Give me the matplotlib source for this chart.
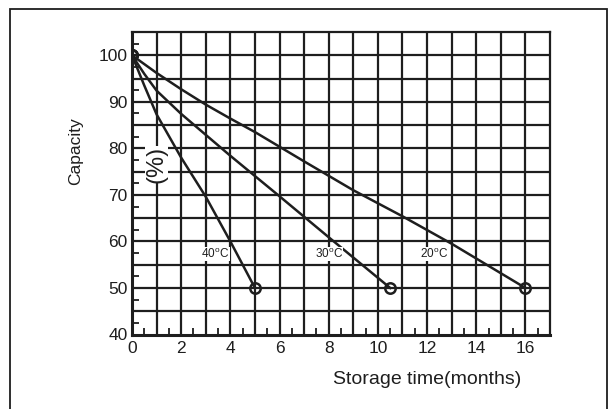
import matplotlib.pyplot as plt
from matplotlib.patches import Rectangle
from matplotlib.ticker import MultipleLocator

plt.rcParams['font.family'] = ['Liberation Sans', 'DejaVu Sans']
plt.rcParams['mathtext.fontset'] = 'custom'
plt.rcParams['mathtext.rm'] = 'Liberation Sans'

# self-discharge curves: capacity (%) vs storage time (months)
months_40 = [0, 0.5, 1, 2, 3, 4, 5]
capacity_40 = [100, 93.5, 87.3, 78.0, 69.6, 60.0, 50]
months_30 = [0, 0.5, 1, 2, 3, 4, 6, 8, 10.5]
capacity_30 = [100, 96.0, 92.4, 87.4, 82.9, 78.4, 69.7, 60.9, 50]
months_20 = [0, 1, 2, 3, 4, 5, 7, 9, 11, 13, 16]
capacity_20 = [100, 96.2, 92.7, 89.4, 86.4, 83.5, 77.2, 71.0, 65.4, 59.5, 50]

temp_labels = ['40', '30', '20']
label_x = [3.39, 8.0, 12.3]
label_y = 57.3

x_ticks = list(range(0, 17, 2))
y_ticks = list(range(40, 101, 10))

ink = '#1e1e1e'

fig = plt.figure(figsize=(6.1, 4.09), dpi=100)
fig.add_artist(Rectangle((10 / 610, -0.05), 597 / 610, 1 - 9 / 409 + 0.05,
                         transform=fig.transFigure, fill=False,
                         edgecolor=ink, linewidth=1.3))

ax = fig.add_axes([132 / 610, 1 - 334.5 / 409, 418 / 610, 302.5 / 409])
ax.set_xlim(0, 17)
ax.set_ylim(40, 105)

# grid: every month vertically, every 5 % horizontally
for gx in range(1, 17):
    ax.axvline(gx, color=ink, linewidth=1.6, zorder=1)
for gy in range(45, 105, 5):
    ax.axhline(gy, color=ink, linewidth=1.6, zorder=1)

for sp in ['top', 'right']:
    ax.spines[sp].set_linewidth(1.6)
for sp in ['left', 'bottom']:
    ax.spines[sp].set_linewidth(2.2)
for sp in ax.spines.values():
    sp.set_color(ink)

ax.set_xticks(x_ticks)
ax.set_yticks(y_ticks)
ax.xaxis.set_minor_locator(MultipleLocator(0.5))
ax.yaxis.set_minor_locator(MultipleLocator(2.5))
ax.tick_params(which='major', length=0, labelsize=12.5, labelcolor=ink)
ax.tick_params(axis='x', which='major', pad=5)
ax.tick_params(axis='y', which='major', pad=3)
ax.tick_params(which='minor', direction='in', length=5, width=1.3, color=ink)

for xs, ys in [(months_40, capacity_40), (months_30, capacity_30), (months_20, capacity_20)]:
    ax.plot(xs, ys, color=ink, linewidth=1.8, zorder=3)
    ax.plot([xs[0], xs[-1]], [ys[0], ys[-1]], linestyle='none', marker='o',
            markersize=7.5, markerfacecolor='none', markeredgecolor=ink,
            markeredgewidth=1.8, zorder=4)

for t, lx in zip(temp_labels, label_x):
    ax.text(lx, label_y, t + r'$^{\rm o}$C', fontsize=8.5, ha='center', va='center',
            color=ink, zorder=5,
            bbox=dict(facecolor='white', edgecolor='none', pad=0.3))

ax.text(1.0, 76.5, '(%)', rotation=90, fontsize=17, ha='center', va='center',
        color=ink, zorder=5,
        bbox=dict(facecolor='white', edgecolor='none', pad=0.1))

fig.text(76 / 610, 1 - 151 / 409, 'Capacity', rotation=90, fontsize=12.5,
         ha='center', va='center', color=ink)
fig.text(427 / 610, 1 - 379 / 409, 'Storage time(months)', fontsize=14,
         ha='center', va='center', color=ink)

fig.savefig('out.png', dpi=100)
